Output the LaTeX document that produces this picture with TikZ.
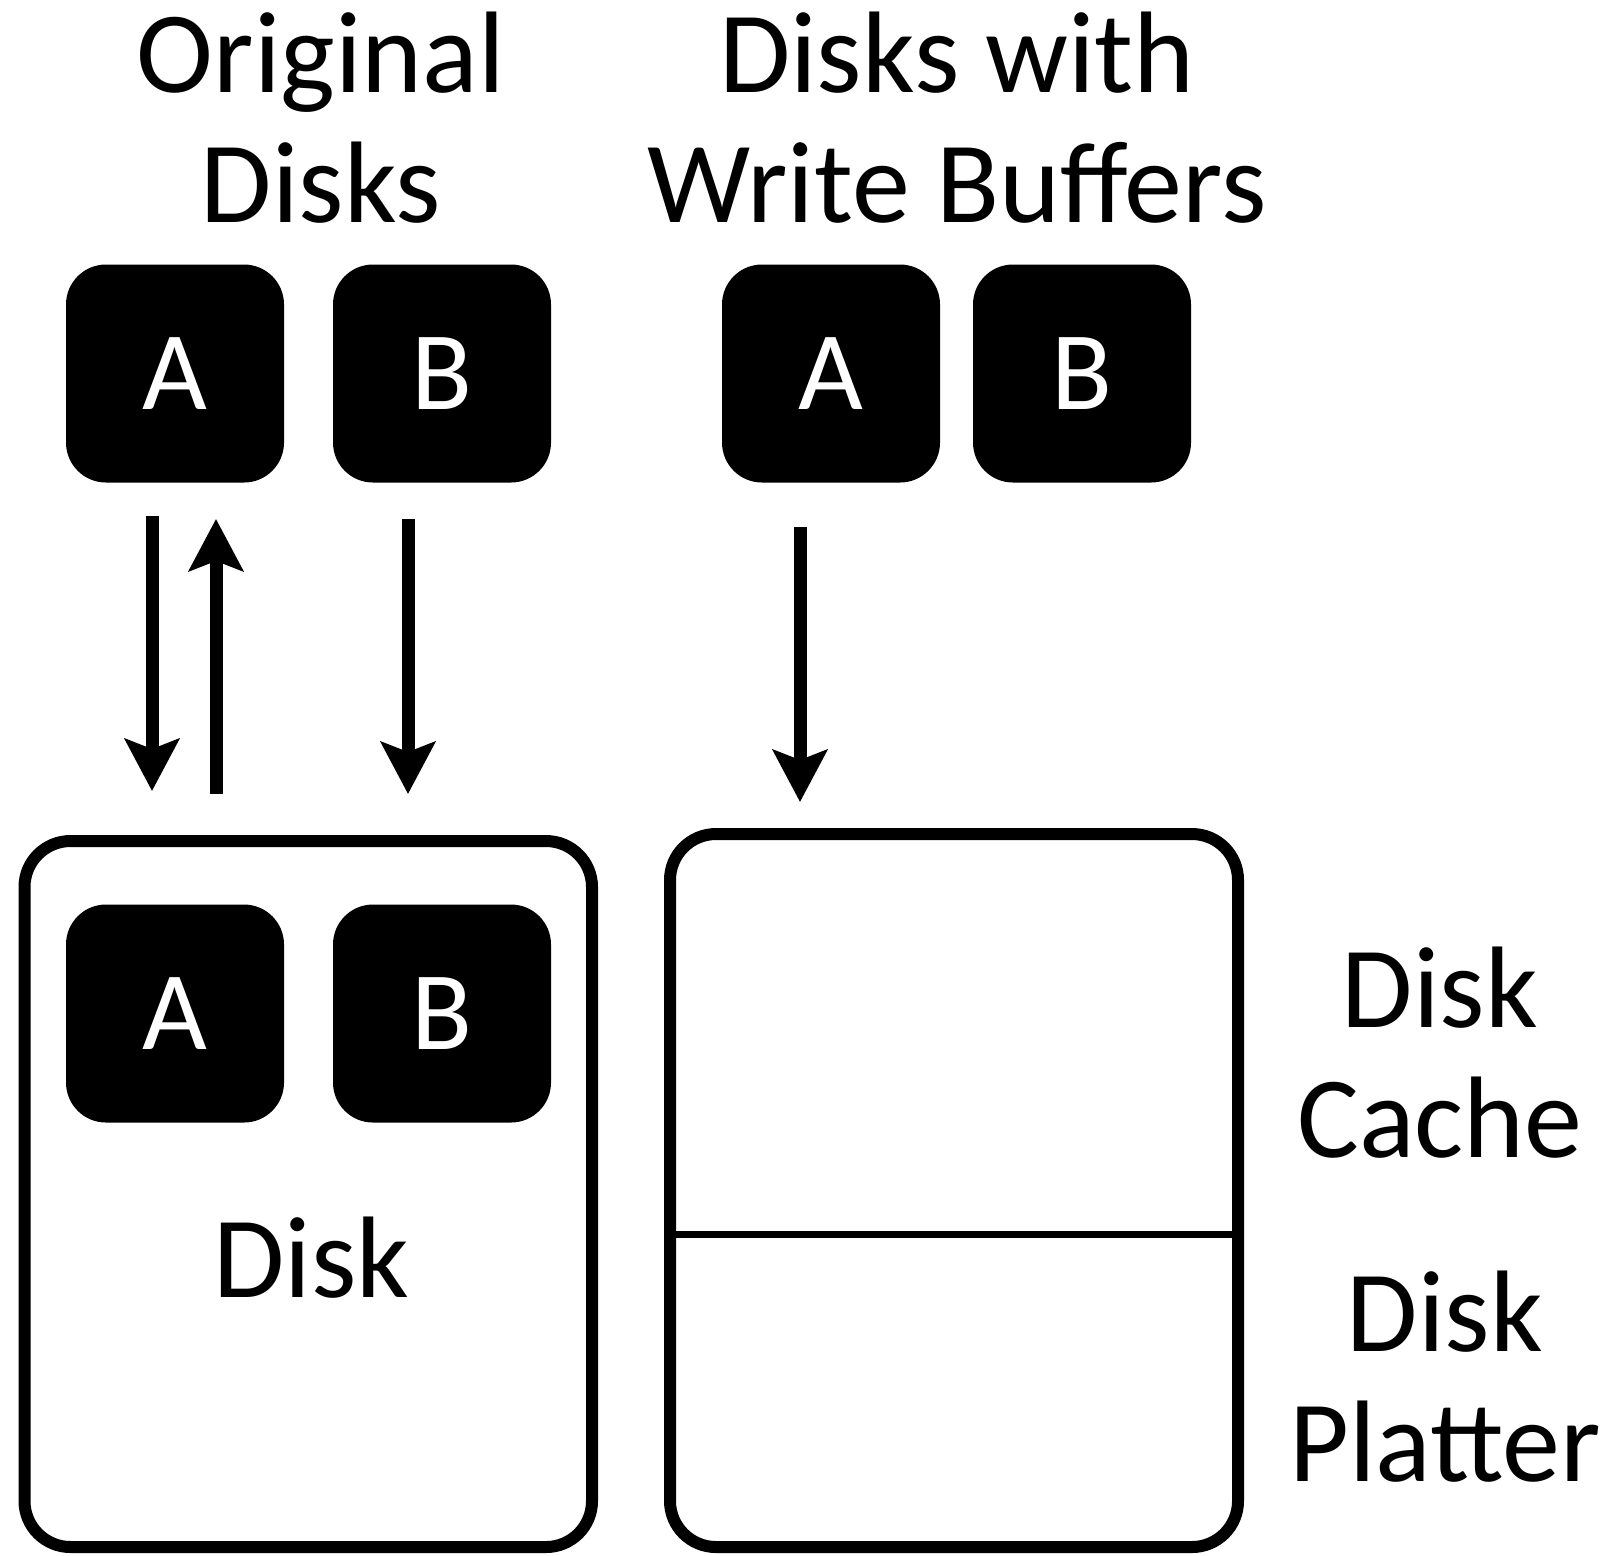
\documentclass[tikz,border=0pt]{standalone}
\usepackage{fontspec}
\setmainfont{Carlito}
\usetikzlibrary{arrows.meta}
\tikzset{
	blockbox/.style={draw=none, fill=black, text=white, rounded corners=20pt, minimum width=109pt, minimum height=109pt, inner sep=0pt, font=\fontsize{56}{60}\selectfont},
	outerbox/.style={draw, line width=6pt, rounded corners=23pt, inner sep=0pt},
	bigtext/.style={align=center, inner sep=0pt, anchor=base, font=\fontsize{58}{65}\selectfont},
	flow/.style={line width=6.5pt, -{Stealth[length=26pt, width=27pt, inset=5pt]}}
}

\begin{document}
\begin{tikzpicture}[x=0.5pt, y=-0.5pt]
		%%%%% START %%%%%
		\useasboundingbox (0, 0) rectangle (1604, 1555);
		
		% titles
		\node[bigtext] (titleOrig) at (321, 222) {Original\\Disks};
		\node[bigtext] (titleBuf) at (957, 222) {Disks with\\Write Buffers};
		
		% disk blocks on top
		\node[blockbox] (origA) at (175, 373.5) {A};
		\node[blockbox] (origB) at (442, 373.5) {B};
		\node[blockbox] (bufA) at (831, 373.5) {A};
		\node[blockbox] (bufB) at (1082, 373.5) {B};
		
		% the two disks below
		\node[outerbox, minimum width=283.75pt, minimum height=353pt] (disk) at (308.25, 1194) {};
		\node[outerbox, minimum width=284pt, minimum height=356.5pt] (bufdisk) at (954, 1190.5) {};
		
		\node[blockbox] (diskA) at (175, 1013.5) {A};
		\node[blockbox] (diskB) at (442, 1013.5) {B};
		\node[bigtext] (diskLabel) at (311.5, 1297) {Disk};
		
		\coordinate (cut) at (954, 1234);
		\draw[line width=3.5pt] (bufdisk.west |- cut) -- (bufdisk.east |- cut);
		
		\node[bigtext] (labelCache) at (1440, 1157) {Disk\\Cache};
		\node[bigtext] (labelPlatter) at (1445, 1481) {Disk\\Platter};
		
		% arrows
		\draw[flow, shorten <=16.5pt, shorten >=22pt] ([xshift=-11.5pt]origA.south) -- ([xshift=-11.5pt]origA.south |- disk.north);
		\draw[flow, shorten <=20.5pt, shorten >=18pt] ([xshift=20.5pt]origA.south |- disk.north) -- ([xshift=20.5pt]origA.south);
		\draw[flow, shorten <=18pt, shorten >=20.5pt] ([xshift=-17pt]origB.south) -- ([xshift=-17pt]origB.south |- disk.north);
		\draw[flow, shorten <=22pt, shorten >=13pt] ([xshift=-15.5pt]bufA.south) -- ([xshift=-15.5pt]bufA.south |- bufdisk.north);
		%%%%% END %%%%%
	\end{tikzpicture}
\end{document}
